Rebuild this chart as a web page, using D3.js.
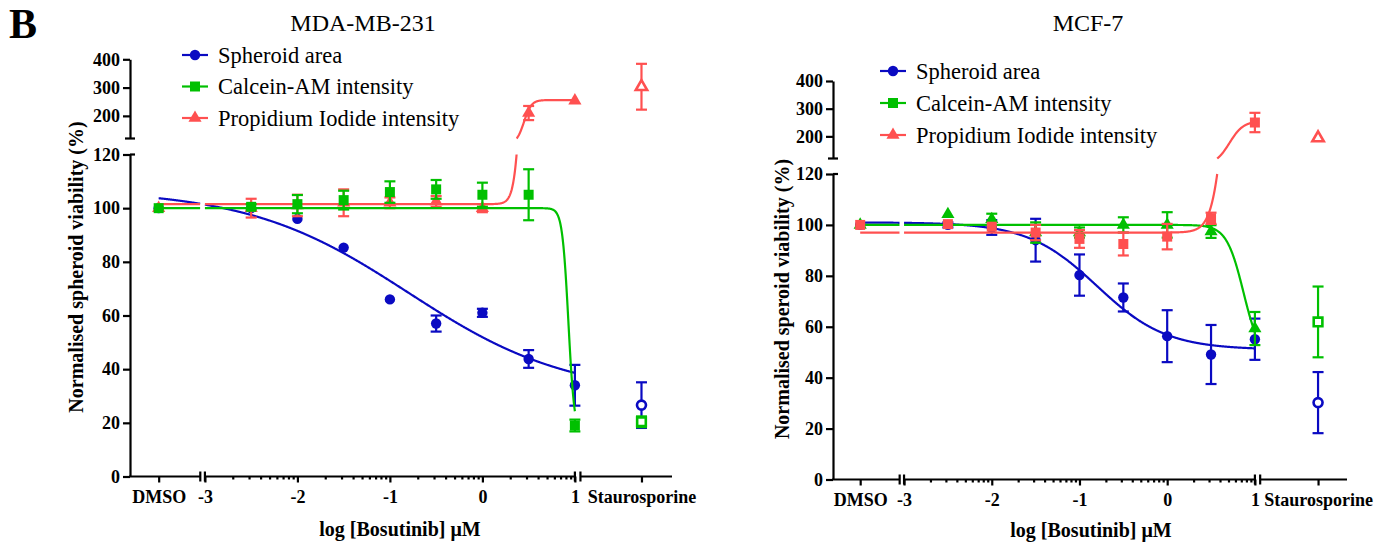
<!DOCTYPE html>
<html>
<head>
<meta charset="utf-8">
<script src="https://cdn.jsdelivr.net/npm/d3@7"></script>
<style>
    body { margin: 0; background: #fff; }
    svg text { font-family: "Liberation Serif", "Times New Roman", serif; fill: #000; }
    .axis-text { font-weight: bold; font-size: 18px; }
    .axis-title { font-weight: bold; font-size: 20px; }
    .panel-title { font-size: 24px; }
    .legend-text { font-size: 22.5px; }
</style>
</head>
<body>
<div id="chart"></div>
<script>
// ---- data ----
// index 0 = DMSO, 1..8 = logDose, 9 = Staurosporine
const logDose = [-2.5, -2, -1.5, -1, -0.5, 0, 0.5, 1];
const majorTicks = [-3, -2, -1, 0, 1];
const yLowTicks = [0, 20, 40, 60, 80, 100, 120];
const yHighTicks = [200, 300, 400];
const seriesNames = ["Spheroid area", "Calcein-AM intensity", "Propidium Iodide intensity"];

// MDA-MB-231
const mdaAreaMean = [100, 100, 96, 85.3, 66, 57, 61, 43.8, 34, 26.6];
const mdaAreaSem = [0, 0, 0, 0, 0, 3, 1.5, 3.3, 7.6, 8.5];
const mdaCalceinMean = [100, 100.5, 101.5, 103, 106, 107, 105, 105, 19, 20.4];
const mdaCalceinSem = [0, 1, 3.4, 3.5, 4, 3.5, 4.5, 9.5, 2.2, 2];
const mdaPIMean = [100, 100, 101, 102, 102, 102.5, 100, 210, 254, 303];
const mdaPISem = [0, 3.5, 4, 5, 2, 2, 1.5, 25, 0, 81];

// MCF-7
const mcfAreaMean = [100, 100, 99, 94, 80.3, 71.5, 56.3, 49.1, 55.1, 30.2];
const mcfAreaSem = [0, 1, 2.9, 8.4, 8.1, 5.5, 10.2, 11.6, 8.1, 12];
const mcfCalceinMean = [100, 104.2, 102.2, 97, 97, 100, 100, 97.4, 59.3, 61.9];
const mcfCalceinSem = [0, 0, 2.2, 4, 2, 3, 5, 2.5, 6.5, 13.9];
const mcfPIMean = [100, 100.3, 99.3, 97, 94.5, 92.5, 95.4, 102.6, 250, 194];
const mcfPISem = [0, 0, 0, 3, 3.5, 4.5, 5, 2.2, 35, 0];

// fitted curves [bottom, top, logEC50, hill]
const mdaAreaFit = [30, 107, -0.8, 0.5];
const mdaCalceinFit = [15, 100, 0.93, 13];
const mdaPIFit = [101.5, 256, 0.45, -10.8];
const mcfAreaFit = [51, 101, -0.8, 1.1];
const mcfCalceinFit = [47, 100, 0.87, 4.5];
const mcfPIFit = [97, 255, 0.71, -5.5];

const dmsoAt = -3.5, stauroAt = 1.72;
const xMin = -3.81, xMax = 2.05;
const blue = "#0a0ac2", green = "#00c000", red = "#ff5050";

/* * * * * * * * * * * * * *
*        DoseChart         *
* * * * * * * * * * * * * */
class DoseChart {

    constructor(svg, cfg) {
        this.svg = svg;
        this.cfg = cfg;
        this.initVis();
    }

    initVis() {
        let vis = this, c = vis.cfg;
        vis.g = vis.svg.append("g");

        vis.x = d3.scaleLinear().domain([xMin, xMax]).range([c.left, c.right]);
        vis.yLow = d3.scaleLinear().domain([0, 120]).range([c.bottom, c.lowTop]);
        vis.yHigh = d3.scaleLinear().domain([120, 400]).range([c.highBottom, c.top]);
        vis.y = v => v <= 120 ? vis.yLow(v) : vis.yHigh(v);

        vis.drawAxes();
        vis.drawSeries();
        vis.drawLegend();
        vis.drawText();
    }

    drawAxes() {
        let vis = this, c = vis.cfg;

        // y axis, two pieces
        let yl = vis.g.append("g").attr("transform", `translate(${c.left},0)`)
            .call(d3.axisLeft(vis.yLow).tickValues(yLowTicks).tickSize(7).tickSizeOuter(0).tickPadding(3));
        let yh = vis.g.append("g").attr("transform", `translate(${c.left},0)`)
            .call(d3.axisLeft(vis.yHigh).tickValues(yHighTicks).tickSize(7).tickSizeOuter(0).tickPadding(3));

        // break caps
        vis.g.append("line")
            .attr("x1", c.left - 5).attr("x2", c.left + 5)
            .attr("y1", vis.yHigh(120)).attr("y2", vis.yHigh(120));
        vis.g.append("line")
            .attr("x1", c.left).attr("x2", c.left + 5)
            .attr("y1", vis.yLow(120)).attr("y2", vis.yLow(120));

        // x axis
        let minors = [];
        [-3, -2, -1, 0].forEach(n => d3.range(2, 10).forEach(k => minors.push(n + Math.log10(k))));

        let xa = vis.g.append("g").attr("transform", `translate(0,${c.bottom})`)
            .call(d3.axisBottom(vis.x)
                .tickValues([dmsoAt, ...majorTicks, stauroAt])
                .tickSize(6).tickSizeOuter(0).tickPadding(8)
                .tickFormat(d => d === dmsoAt ? "DMSO" : d === stauroAt ? "Staurosporine" : String(d)));
        xa.select(".domain").remove();

        let xm = vis.g.append("g").attr("transform", `translate(0,${c.bottom})`)
            .call(d3.axisBottom(vis.x).tickValues(minors).tickSize(3).tickSizeOuter(0).tickFormat(""));
        xm.select(".domain").remove();

        // axis segments with breaks
        let segs = [[xMin, -3.05], [-3, 1], [1.06, xMax]];
        segs.forEach(s => {
            vis.g.append("line")
                .attr("x1", s[0] === xMin ? c.left - 1 : vis.x(s[0])).attr("x2", vis.x(s[1]))
                .attr("y1", c.bottom).attr("y2", c.bottom);
        });
        [-3.05, -3, 1, 1.06].forEach(b => {
            vis.g.append("line")
                .attr("x1", vis.x(b)).attr("x2", vis.x(b))
                .attr("y1", c.bottom - 5).attr("y2", c.bottom + 5);
        });

        vis.g.selectAll("line, path.domain").attr("stroke", "#000").attr("stroke-width", 2.2);
        vis.g.selectAll(".tick line").attr("stroke", "#000").attr("stroke-width", 2.2);
        vis.g.selectAll(".tick text")
            .attr("class", "axis-text")
            .attr("font-family", null).attr("font-size", null);
        [yl, yh, xa, xm].forEach(a => a.attr("font-family", null).attr("font-size", null));
    }

    fitY(p, x) {
        return p[0] + (p[1] - p[0]) / (1 + Math.pow(10, (x - p[2]) * p[3]));
    }

    // sampled fit split at the x break and the y break
    curveParts(p) {
        let vis = this, parts = [];
        [[dmsoAt, -3.05], [-3, 1]].forEach(r => {
            let cur = [], prev = null;
            for (let x = r[0]; x <= r[1] + 1e-9; x += 0.004) {
                let v = vis.fitY(p, x);
                if (prev && (prev[1] <= 120) !== (v <= 120)) {
                    let t = (120 - prev[1]) / (v - prev[1]);
                    let bx = prev[0] + t * (x - prev[0]);
                    cur.push([bx, 120, prev[1] <= 120]);
                    parts.push(cur);
                    cur = [[bx, 120, v <= 120]];
                }
                cur.push([x, v, v <= 120]);
                prev = [x, v];
            }
            parts.push(cur);
        });
        return parts;
    }

    symbolPath(shape, size) {
        let type = shape === "circle" ? d3.symbolCircle : shape === "square" ? d3.symbolSquare : d3.symbolTriangle;
        return d3.symbol().type(type).size(size)();
    }

    symbolSize(shape) {
        return shape === "circle" ? 85 : shape === "square" ? 100 : 75;
    }

    drawSeries() {
        let vis = this, c = vis.cfg;
        let xs = [dmsoAt, ...logDose, stauroAt];

        c.order.forEach(si => {
            let s = c.series[si];
            let grp = vis.g.append("g");

            // fitted curve
            vis.curveParts(s.fit).forEach(part => {
                let low = part.length && part[part.length - 1][2];
                grp.append("path")
                    .attr("d", d3.line()
                        .x(d => vis.x(d[0]))
                        .y(d => low ? vis.yLow(d[1]) : vis.yHigh(d[1]))(part))
                    .attr("fill", "none")
                    .attr("stroke", s.color)
                    .attr("stroke-width", 2.2);
            });

            let pts = s.mean.map((m, i) => ({x: xs[i], m: m, e: s.sem[i], open: i === 9}));

            // error bars
            pts.filter(d => d.e > 0).forEach(d => {
                let px = vis.x(d.x);
                grp.append("line")
                    .attr("x1", px).attr("x2", px)
                    .attr("y1", vis.y(d.m - d.e)).attr("y2", vis.y(d.m + d.e));
                [d.m - d.e, d.m + d.e].forEach(v => {
                    grp.append("line")
                        .attr("x1", px - 5.5).attr("x2", px + 5.5)
                        .attr("y1", vis.y(v)).attr("y2", vis.y(v));
                });
            });
            grp.selectAll("line").attr("stroke", s.color).attr("stroke-width", 2.2);

            // markers
            pts.forEach(d => {
                let shape = d.open ? s.staShape : s.shape;
                grp.append("path")
                    .attr("d", vis.symbolPath(shape, d.open ? vis.symbolSize(shape) * 0.75 : vis.symbolSize(shape)))
                    .attr("transform", `translate(${vis.x(d.x)},${vis.y(d.m)})`)
                    .attr("fill", d.open ? "#fff" : s.color)
                    .attr("stroke", d.open ? s.color : "none")
                    .attr("stroke-width", 2.6);
            });
        });
    }

    drawLegend() {
        let vis = this, c = vis.cfg;
        c.series.forEach((s, i) => {
            let ly = c.legendY + i * c.legendGap;
            let row = vis.g.append("g").attr("transform", `translate(${c.legendX},${ly})`);
            row.append("line")
                .attr("x1", 0).attr("x2", 26).attr("y1", 0).attr("y2", 0)
                .attr("stroke", s.color).attr("stroke-width", 2.2);
            row.append("path")
                .attr("d", vis.symbolPath(s.legendShape, vis.symbolSize(s.legendShape)))
                .attr("transform", "translate(13,0)")
                .attr("fill", s.color);
            row.append("text")
                .attr("class", "legend-text")
                .attr("x", 36).attr("dy", "0.35em")
                .text(seriesNames[i]);
        });
    }

    drawText() {
        let vis = this, c = vis.cfg;
        vis.g.append("text")
            .attr("class", "panel-title")
            .attr("x", c.titleX).attr("y", 31)
            .attr("text-anchor", "middle")
            .text(c.title);

        vis.g.append("text")
            .attr("class", "axis-title")
            .attr("transform", `translate(${c.yLabelX},${c.yLabelY}) rotate(-90)`)
            .attr("text-anchor", "middle")
            .attr("dy", "0.35em")
            .text(c.yLabel);

        vis.g.append("text")
            .attr("class", "axis-title")
            .attr("x", c.xLabelX).attr("y", c.xLabelY)
            .attr("text-anchor", "middle")
            .text("log [Bosutinib] μM");
    }
}

let svg = d3.select("#chart").append("svg")
    .attr("width", 1377)
    .attr("height", 545);

svg.append("text")
    .attr("x", 9).attr("y", 38)
    .attr("font-size", 42).attr("font-weight", "bold")
    .text("B");

new DoseChart(svg, {
    left: 130, right: 672, bottom: 476.5, lowTop: 154.5, highBottom: 138.5, top: 59.3,
    title: "MDA-MB-231", titleX: 363,
    yLabel: "Normalised spheroid viability (%)", yLabelX: 76, yLabelY: 267,
    xLabelX: 400, xLabelY: 536,
    legendX: 182, legendY: 55, legendGap: 31.5,
    order: [0, 2, 1],
    series: [
        {mean: mdaAreaMean, sem: mdaAreaSem, fit: mdaAreaFit, color: blue, shape: "circle", staShape: "circle", legendShape: "circle"},
        {mean: mdaCalceinMean, sem: mdaCalceinSem, fit: mdaCalceinFit, color: green, shape: "square", staShape: "square", legendShape: "square"},
        {mean: mdaPIMean, sem: mdaPISem, fit: mdaPIFit, color: red, shape: "triangle", staShape: "triangle", legendShape: "triangle"}
    ]
});

new DoseChart(svg, {
    left: 833, right: 1347, bottom: 479.5, lowTop: 174, highBottom: 158.5, top: 81,
    title: "MCF-7", titleX: 1088,
    yLabel: "Normalised speroid viability (%)", yLabelX: 782, yLabelY: 299,
    xLabelX: 1091, xLabelY: 537,
    legendX: 880, legendY: 71, legendGap: 32,
    order: [0, 1, 2],
    series: [
        {mean: mcfAreaMean, sem: mcfAreaSem, fit: mcfAreaFit, color: blue, shape: "circle", staShape: "circle", legendShape: "circle"},
        {mean: mcfCalceinMean, sem: mcfCalceinSem, fit: mcfCalceinFit, color: green, shape: "triangle", staShape: "square", legendShape: "square"},
        {mean: mcfPIMean, sem: mcfPISem, fit: mcfPIFit, color: red, shape: "square", staShape: "triangle", legendShape: "triangle"}
    ]
});
</script>
</body>
</html>
